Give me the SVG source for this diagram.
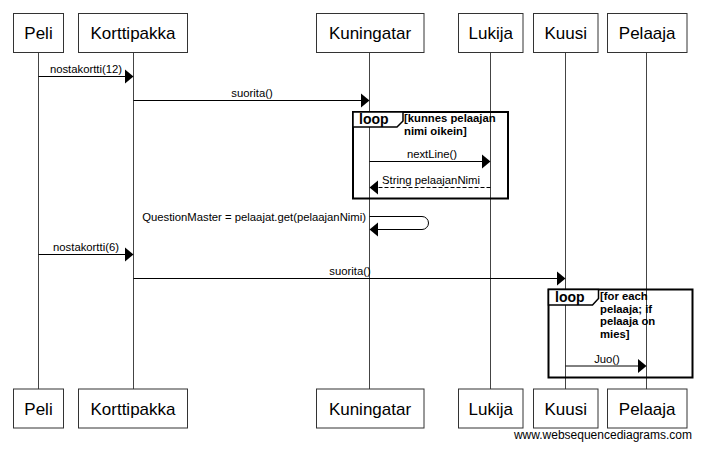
<svg xmlns="http://www.w3.org/2000/svg" width="701" height="450" viewBox="0 0 701 450">
<style>
.box{fill:#fff;stroke:#333;stroke-width:1}
.pname{font-family:"Liberation Sans",Arial,sans-serif;font-size:17px;fill:#000;text-anchor:middle}
.life{stroke:#444;stroke-width:1}
.msg{stroke:#000;stroke-width:1;fill:none}
.dash{stroke:#000;stroke-width:1;fill:none;stroke-dasharray:4,2}
.head{fill:#000}
.lbl{font-family:"Liberation Sans",Arial,sans-serif;font-size:11.3px;fill:#000;text-anchor:middle}
.frame{fill:none;stroke:#000;stroke-width:2}
.tab{fill:#fff;stroke:#000;stroke-width:1.5}
.kw{font-family:"Liberation Sans",Arial,sans-serif;font-size:14px;font-weight:bold;fill:#000}
.cond{font-family:"Liberation Sans",Arial,sans-serif;font-size:11.3px;font-weight:bold;fill:#000}
.wm{font-family:"Liberation Sans",Arial,sans-serif;font-size:12px;fill:#000}
</style>
<rect width="701" height="450" fill="#fff"/>
<g id="lifelines">
<line class="life" x1="38.5" y1="52.5" x2="38.5" y2="389"/>
<line class="life" x1="133.5" y1="52.5" x2="133.5" y2="389"/>
<line class="life" x1="369.5" y1="52.5" x2="369.5" y2="389"/>
<line class="life" x1="490.5" y1="52.5" x2="490.5" y2="389"/>
<line class="life" x1="565.5" y1="52.5" x2="565.5" y2="389"/>
<line class="life" x1="646.5" y1="52.5" x2="646.5" y2="389"/>
</g>
<g id="loop1">
<rect class="frame" x="353" y="112" width="155" height="86.5"/>
<polygon class="tab" points="353,112 403,112 403,121 397,127 353,127"/>
<text class="kw" x="359" y="124">loop</text>
<text class="cond" x="404" y="122">[kunnes pelaajan</text>
<text class="cond" x="404" y="134.5">nimi oikein]</text>
</g>
<g id="loop2">
<rect class="frame" x="548.5" y="289.5" width="144" height="88"/>
<polygon class="tab" points="548.5,289.5 598.5,289.5 598.5,298.5 592.5,305 548.5,305"/>
<text class="kw" x="555" y="302">loop</text>
<text class="cond" x="600" y="300">[for each</text>
<text class="cond" x="600" y="312.5">pelaaja; if</text>
<text class="cond" x="600" y="325">pelaaja on</text>
<text class="cond" x="600" y="337.5">mies]</text>
</g>
<g id="connectors">
<line class="msg" x1="38.5" y1="76.5" x2="126" y2="76.5"/>
<polygon class="head" points="125,69.5 133.5,76.5 125,83.5"/>
<text class="lbl" x="86" y="73">nostakortti(12)</text>
<line class="msg" x1="133.5" y1="100.5" x2="362" y2="100.5"/>
<polygon class="head" points="361,93.5 369.5,100.5 361,107.5"/>
<text class="lbl" x="252" y="97">suorita()</text>
<line class="msg" x1="369.5" y1="161.5" x2="483" y2="161.5"/>
<polygon class="head" points="482,154.5 490.5,161.5 482,168.5"/>
<text class="lbl" x="432" y="158">nextLine()</text>
<line class="dash" x1="490.5" y1="187.5" x2="377" y2="187.5"/>
<polygon class="head" points="378,180.5 369.5,187.5 378,194.5"/>
<text class="lbl" x="431" y="184">String pelaajanNimi</text>
<path class="msg" d="M369.5,216.5 H422 A6.5,6.5 0 0 1 422,229.5 H377"/>
<polygon class="head" points="378,222.5 369.5,229.5 378,236.5"/>
<text class="lbl" x="366" y="221" style="text-anchor:end">QuestionMaster = pelaajat.get(pelaajanNimi)</text>
<line class="msg" x1="38.5" y1="254.5" x2="126" y2="254.5"/>
<polygon class="head" points="125,247.5 133.5,254.5 125,261.5"/>
<text class="lbl" x="86" y="251">nostakortti(6)</text>
<line class="msg" x1="133.5" y1="278.5" x2="558" y2="278.5"/>
<polygon class="head" points="557,271.5 565.5,278.5 557,285.5"/>
<text class="lbl" x="350" y="275">suorita()</text>
<line class="msg" x1="565.5" y1="366" x2="639" y2="366"/>
<polygon class="head" points="638,359 646.5,366 638,373"/>
<text class="lbl" x="607" y="362.5">Juo()</text>
</g>
<g id="Peli">
<rect class="box" x="13.5" y="13.5" width="50" height="39"/>
<text class="pname" x="38.5" y="39">Peli</text>
<rect class="box" x="13.5" y="389" width="50" height="39"/>
<text class="pname" x="38.5" y="415">Peli</text>
</g>
<g id="Korttipakka">
<rect class="box" x="78.5" y="13.5" width="109" height="39"/>
<text class="pname" x="133" y="39">Korttipakka</text>
<rect class="box" x="78.5" y="389" width="109" height="39"/>
<text class="pname" x="133" y="415">Korttipakka</text>
</g>
<g id="Kuningatar">
<rect class="box" x="316.5" y="13.5" width="107.5" height="39"/>
<text class="pname" x="370" y="39">Kuningatar</text>
<rect class="box" x="316.5" y="389" width="107.5" height="39"/>
<text class="pname" x="370" y="415">Kuningatar</text>
</g>
<g id="Lukija">
<rect class="box" x="458.5" y="13.5" width="64.5" height="39"/>
<text class="pname" x="490.7" y="39">Lukija</text>
<rect class="box" x="458.5" y="389" width="64.5" height="39"/>
<text class="pname" x="490.7" y="415">Lukija</text>
</g>
<g id="Kuusi">
<rect class="box" x="533.5" y="13.5" width="64.5" height="39"/>
<text class="pname" x="565.7" y="39">Kuusi</text>
<rect class="box" x="533.5" y="389" width="64.5" height="39"/>
<text class="pname" x="565.7" y="415">Kuusi</text>
</g>
<g id="Pelaaja">
<rect class="box" x="607.5" y="13.5" width="79.5" height="39"/>
<text class="pname" x="647.2" y="39">Pelaaja</text>
<rect class="box" x="607.5" y="389" width="79.5" height="39"/>
<text class="pname" x="647.2" y="415">Pelaaja</text>
</g>
<text class="wm" x="692" y="439" style="text-anchor:end">www.websequencediagrams.com</text>
</svg>
